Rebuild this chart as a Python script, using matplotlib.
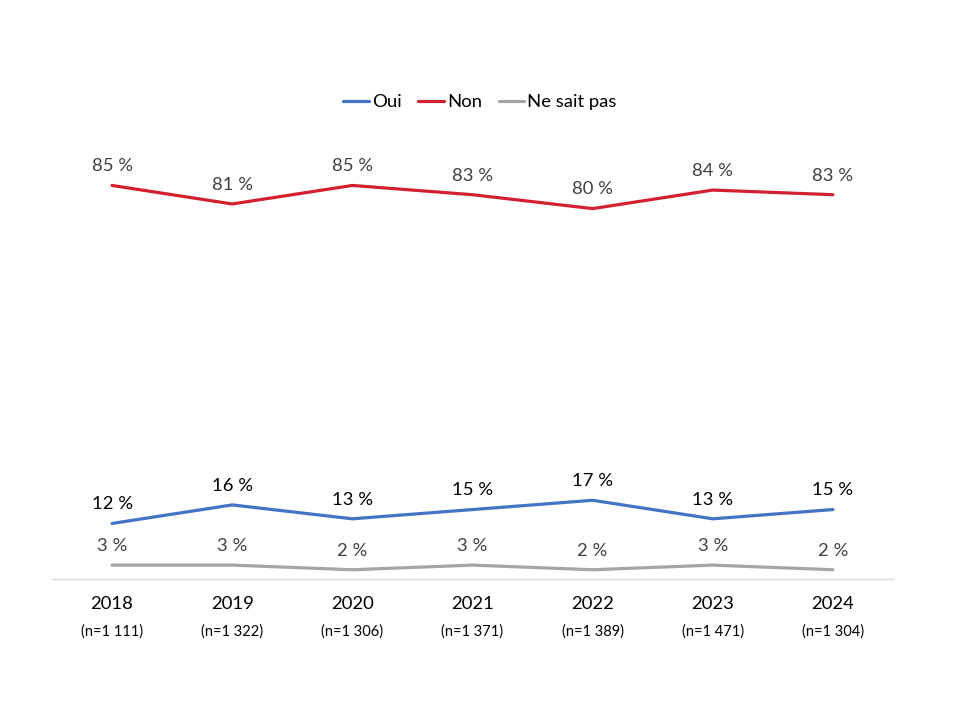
import matplotlib
matplotlib.use("Agg")
import matplotlib.pyplot as plt

plt.rcParams['font.family'] = ['Lato', 'DejaVu Sans']

years = ['2018', '2019', '2020', '2021', '2022', '2023', '2024']
n_labels = ['(n=1 111)', '(n=1 322)', '(n=1 306)', '(n=1 371)', '(n=1 389)', '(n=1 471)', '(n=1 304)']
oui = [12, 16, 13, 15, 17, 13, 15]
non = [85, 81, 85, 83, 80, 84, 83]
nsp = [3, 3, 2, 3, 2, 3, 2]

fig = plt.figure(figsize=(9.6, 7.2), dpi=100)
# axes: x 52..893 px, y 0 at 579 px, 100 at 116 px
ax = fig.add_axes([52 / 960, 1 - 579 / 720, 841 / 960, 463 / 720])
ax.set_xlim(-0.5, 6.5)
ax.set_ylim(0, 100)

x = list(range(len(years)))
series = [
    ('Oui', oui, '#4472C4', 'black'),
    ('Non', non, '#D2202F', '#404040'),
    ('Ne sait pas', nsp, '#A5A5A5', '#404040'),
]
for name, vals, col, tcol in series:
    ax.plot(x, vals, color=col, lw=2.3, label=name, solid_capstyle='round')
    for xi, v in zip(x, vals):
        ax.annotate(f'{v} %', (xi, v), xytext=(0, 8), textcoords='offset points',
                    ha='center', va='bottom', fontsize=13.3, color=tcol)

for s in ['top', 'right', 'left']:
    ax.spines[s].set_visible(False)
ax.spines['bottom'].set_color('#D9D9D9')
ax.spines['bottom'].set_linewidth(1)
ax.set_yticks([])
ax.set_xticks(x)
ax.set_xticklabels([])
ax.tick_params(axis='x', length=0)

for xi, yr, nl in zip(x, years, n_labels):
    ax.text(xi, -5.5, yr, ha='center', va='center', fontsize=13.3, color='black')
    ax.text(xi, -11.3, nl, ha='center', va='center', fontsize=10.5, color='black')

fig.legend(loc='center', bbox_to_anchor=(0.5, 1 - 102 / 720), ncol=3, frameon=False,
           fontsize=13.3, handlelength=1.4, handletextpad=0.15, columnspacing=0.9)

fig.savefig('out.png', dpi=100)
